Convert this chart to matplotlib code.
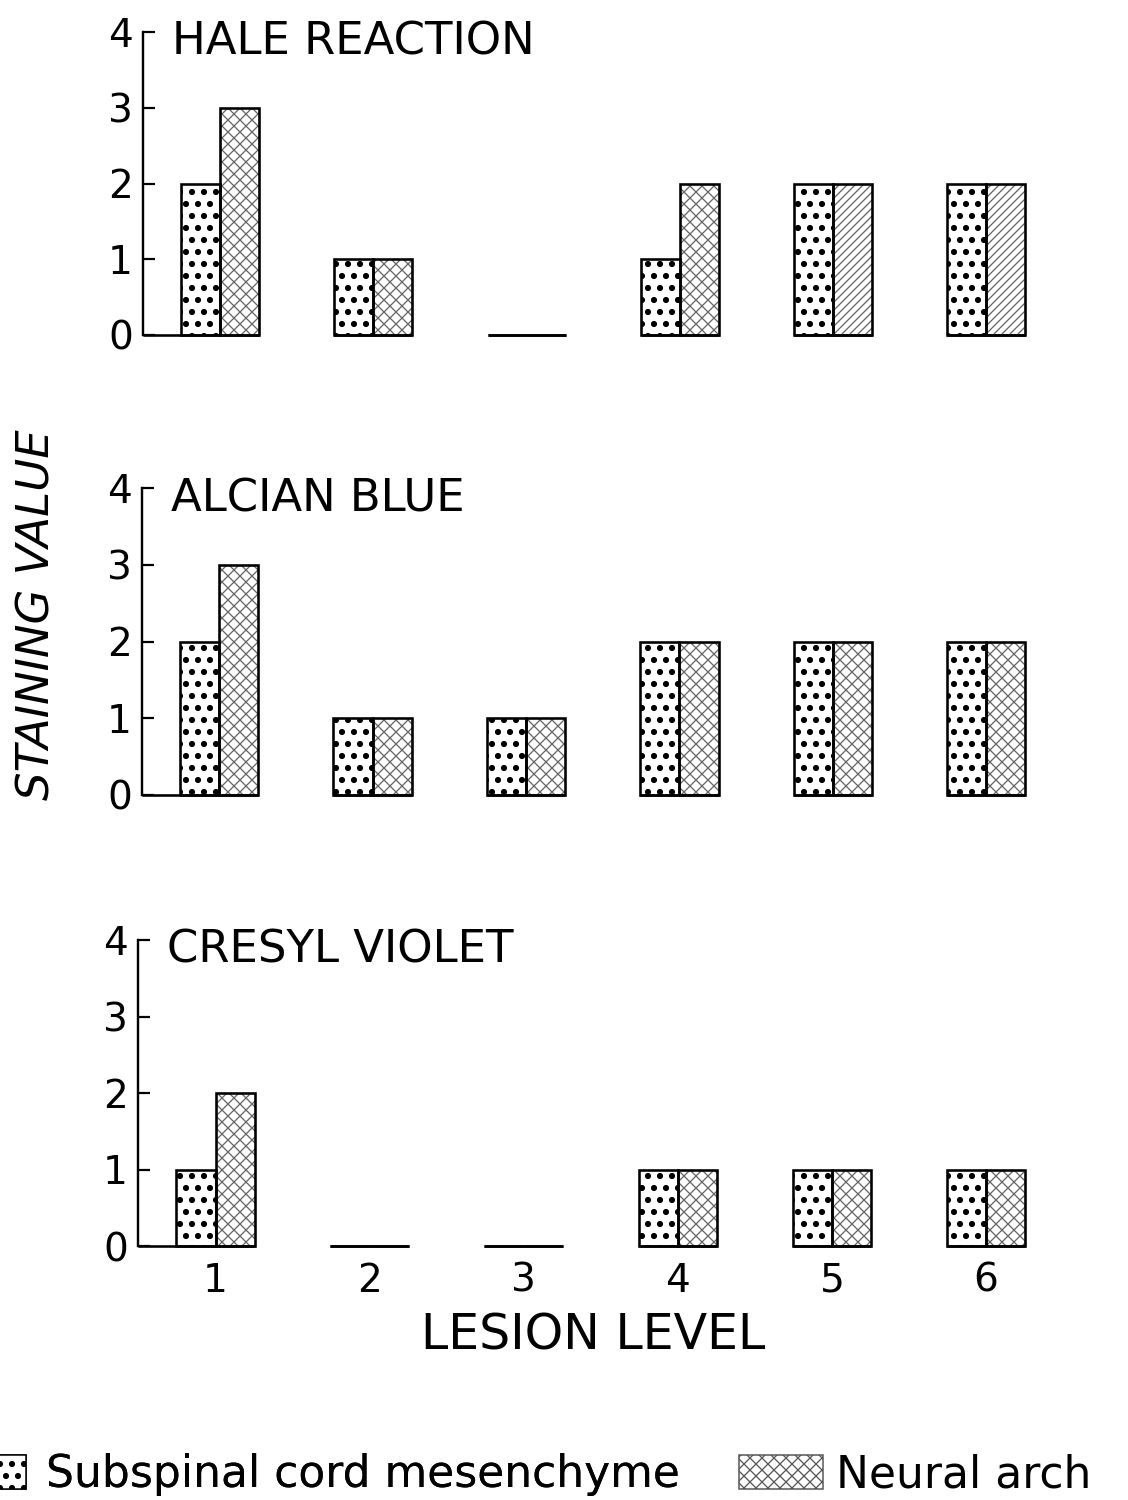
import matplotlib
matplotlib.use("Agg")
import matplotlib.pyplot as plt
import matplotlib.hatch as mhatch
import numpy as np
from matplotlib.patches import Patch

# ---------------- data ----------------
levels = [1, 2, 3, 4, 5, 6]
level_labels = ["1", "2", "3", "4", "5", "6"]
panel_titles = ["HALE REACTION", "ALCIAN BLUE", "CRESYL VIOLET"]
hale_mesenchyme = [2, 1, 0, 1, 2, 2]
hale_arch = [3, 1, 0, 2, 2, 2]
alcian_mesenchyme = [2, 1, 1, 2, 2, 2]
alcian_arch = [3, 1, 1, 2, 2, 2]
cresyl_mesenchyme = [1, 0, 0, 1, 1, 1]
cresyl_arch = [2, 0, 0, 1, 1, 1]
yticks = [0, 1, 2, 3, 4]
ytick_labels = ["0", "1", "2", "3", "4"]
series_names = ["Subspinal cord mesenchyme", "Neural arch"]

mes_data = [hale_mesenchyme, alcian_mesenchyme, cresyl_mesenchyme]
arch_data = [hale_arch, alcian_arch, cresyl_arch]
# hatch style of neural-arch bars per panel (style only)
arch_hatches = [["xx", "xx", "xx", "xx", "///", "///"],
                ["xx"] * 6, ["xx"] * 6]

# bigger stipple dots for the '.' hatch
mhatch.SmallFilledCircles.size = 0.2
plt.rcParams["hatch.linewidth"] = 1.3

DPI = 72
W, H = 1128, 1500
fig = plt.figure(figsize=(W / DPI, H / DPI), dpi=DPI)
fig.patch.set_facecolor("white")

FONT = "DejaVu Sans"
plt.rcParams["font.family"] = [FONT]

# axes placement (pixels): (left x, y of 0, y of 4)
geom = [(143, 335, 32), (142, 795, 488), (138, 1246, 940)]
right_px = 1040
xl = (0.497, 6.35)
bw = 0.255

def hatched_bar(ax, x, h, hatch, hcolor):
    ax.bar(x, h, width=bw, color="none", edgecolor=hcolor, linewidth=0, hatch=hatch,
           zorder=2, clip_on=False)
    ax.bar(x, h, width=bw, color="none", edgecolor="black", linewidth=2.6,
           zorder=3, clip_on=False)

x = np.array(levels, dtype=float)
axes = []
for i, (lx, y0, y4) in enumerate(geom):
    ax = fig.add_axes([lx / W, (H - y0) / H, (right_px - lx) / W, (y0 - y4) / H])
    axes.append(ax)
    ax.set_xlim(*xl)
    ax.set_ylim(0, 4)
    ax.patch.set_alpha(0)
    for j in range(len(levels)):
        hatched_bar(ax, x[j] - bw / 2, mes_data[i][j], ".", "black")
        hatched_bar(ax, x[j] + bw / 2, arch_data[i][j], arch_hatches[i][j], "#666666")
    # baseline segments: from axis to first group, and under each group
    ax.plot([xl[0], x[0] - bw], [0, 0], color="black", lw=2.6,
            solid_capstyle="butt", clip_on=False)
    ax.hlines(np.zeros_like(x), x - bw, x + bw, color="black", lw=2.6,
              zorder=4, clip_on=False)
    for s in ["top", "right", "bottom"]:
        ax.spines[s].set_visible(False)
    ax.spines["left"].set_linewidth(2.4)
    ax.set_yticks(yticks)
    ax.set_yticklabels(ytick_labels)
    ax.tick_params(axis="y", direction="in", length=12, width=2.2, pad=10, labelsize=39)
    ax.tick_params(axis="x", length=0)
    ax.text(0.032, 3.7, panel_titles[i], transform=ax.get_yaxis_transform(),
            ha="left", va="baseline", fontsize=45)
    if i < 2:
        ax.set_xticks([])
    else:
        ax.set_xticks(levels)
        ax.set_xticklabels(level_labels)
        ax.tick_params(axis="x", labelsize=39, pad=16)

fig.text(37 / W, 1 - 615 / H, "STAINING VALUE", rotation=90, style="italic",
         ha="center", va="center", fontsize=45)
fig.text(593 / W, 1 - 1335 / H, "LESION LEVEL", ha="center", va="center", fontsize=49)

# legend
def leg_handle(hatch, hcolor):
    return Patch(facecolor="white", edgecolor=hcolor, hatch=hatch, linewidth=1.5)

h1 = leg_handle(".", "black")
h2 = leg_handle("xx", "#555555")
l1 = fig.legend([h1], [series_names[0]], loc="center left",
                bbox_to_anchor=(-0.012, 1 - 1475 / H), frameon=False,
                fontsize=44, handlelength=0.8, handleheight=0.8, handletextpad=0.45,
                borderaxespad=0, borderpad=0.1)
l2 = fig.legend([h2], [series_names[1]], loc="center left",
                bbox_to_anchor=(735 / W, 1 - 1475 / H), frameon=False,
                fontsize=44, handlelength=1.9, handleheight=0.8, handletextpad=0.3,
                borderaxespad=0, borderpad=0.1)
fig.add_artist(l1)

fig.savefig("out.png", dpi=DPI, facecolor="white")
